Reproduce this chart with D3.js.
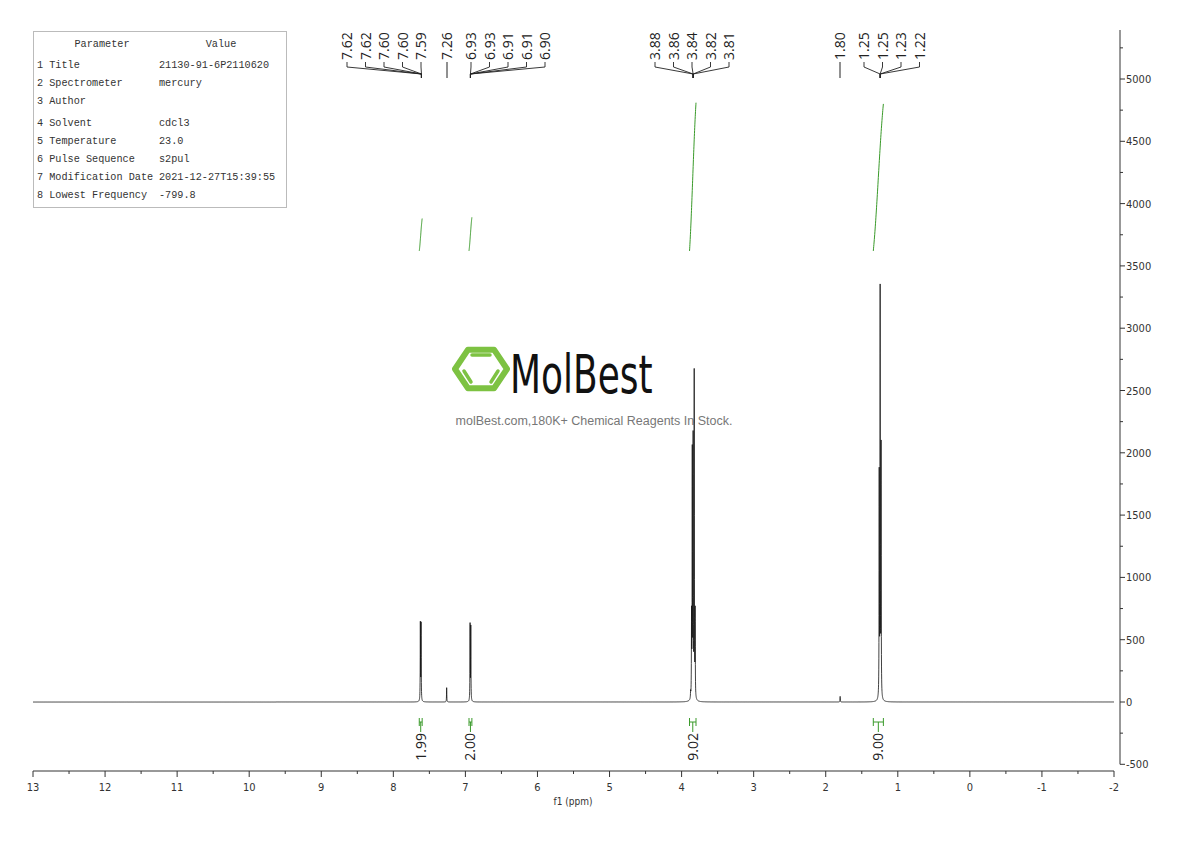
<!DOCTYPE html>
<html><head><meta charset="utf-8">
<script src="https://cdn.jsdelivr.net/npm/d3@7/dist/d3.min.js"></script>
<style>body{margin:0;background:#fff}svg{display:block}</style>
</head><body>
<svg id="c" width="1190" height="841"></svg>
<script>
// ---- data ----
const paramNames = ["1 Title","2 Spectrometer","3 Author","4 Solvent","5 Temperature","6 Pulse Sequence","7 Modification Date","8 Lowest Frequency"];
const paramValues = ["21130-91-6P2110620","mercury","","cdcl3","23.0","s2pul","2021-12-27T15:39:55","-799.8"];
const peakPpm    = [7.625,7.615,7.26,6.935,6.925,3.875,3.862,3.852,3.84,3.825,3.812,1.80,1.258,1.245,1.232];
const peakHeight = [620,615,115,610,590,50,650,1950,2050,2600,680,45,1780,3250,2000];
const labelGroups = [
  {labels:["7.62","7.62","7.60","7.60","7.59"], at:7.61},
  {labels:["7.26"], at:7.26},
  {labels:["6.93","6.93","6.91","6.91","6.90"], at:6.93},
  {labels:["3.88","3.86","3.84","3.82","3.81"], at:3.84},
  {labels:["1.80"], at:1.80},
  {labels:["1.25","1.25","1.23","1.22"], at:1.245}
];
const integralFrom = [7.64,6.95,3.89,1.34];
const integralTo   = [7.60,6.91,3.80,1.20];
const integralLow  = [3620,3620,3620,3620];
const integralHigh = [3880,3890,4810,4800];
const integralVal  = ["1.99","2.00","9.02","9.00"];
const xTicks = d3.range(13,-3,-1);
const yTicks = d3.range(-500,5001,500);

// ---- layout ----
const svg = d3.select("#c");
const x = d3.scaleLinear().domain([13,-2]).range([33,1114]);
const y = d3.scaleLinear().domain([0,5000]).range([702,79]);
const axisFont = "'DejaVu Sans Condensed','Liberation Sans Narrow',sans-serif";

// parameter table
const tb = svg.append("g");
tb.append("rect").attr("x",33.5).attr("y",31.5).attr("width",253).attr("height",176).attr("fill","#fff").attr("stroke","#bbb");
tb.append("text").attr("x",102).attr("y",47).text("Parameter").attr("text-anchor","middle");
tb.append("text").attr("x",221).attr("y",47).text("Value").attr("text-anchor","middle");
const rowY=[68,86,104,126,144,162,180,198];
paramNames.forEach((n,i)=>{
  tb.append("text").attr("x",37).attr("y",rowY[i]).text(n);
  tb.append("text").attr("x",159).attr("y",rowY[i]).text(paramValues[i]);
});
tb.selectAll("text").attr("font-family","'Liberation Mono','DejaVu Sans Mono',monospace").attr("font-size",10.2).attr("fill","#333");

// watermark
const wm = svg.append("g");
const hx=481, hy=369, hr=26;
const hex = d3.range(6).map(k=>[hx+hr*Math.cos(k*Math.PI/3), hy+hr*0.86*Math.sin(k*Math.PI/3)]);
wm.append("path").attr("d","M"+hex.join("L")+"Z").attr("fill","none").attr("stroke","#7dc242").attr("stroke-width",6).attr("stroke-linejoin","round");
wm.append("line").attr("x1",hx-9).attr("x2",hx+9).attr("y1",hy-14).attr("y2",hy-14).attr("stroke","#7dc242").attr("stroke-width",3.5).attr("stroke-linecap","round");
wm.append("line").attr("x1",hx-17).attr("y1",hy+2).attr("x2",hx-10).attr("y2",hy+13).attr("stroke","#7dc242").attr("stroke-width",3.5).attr("stroke-linecap","round");
wm.append("line").attr("x1",hx+17).attr("y1",hy+2).attr("x2",hx+10).attr("y2",hy+13).attr("stroke","#7dc242").attr("stroke-width",3.5).attr("stroke-linecap","round");
wm.append("text").attr("x",0).attr("y",0).attr("transform","translate(510,393) scale(0.74,1)")
  .text("MolBest").attr("font-family","'DejaVu Sans Condensed',sans-serif").attr("font-size",54).attr("fill","#111");
wm.append("text").attr("x",594).attr("y",425).attr("text-anchor","middle").text("molBest.com,180K+ Chemical Reagents In Stock.")
  .attr("font-family","'Liberation Sans',Arial,sans-serif").attr("font-size",12.5).attr("fill","#777");

// spectrum
const grid = d3.range(13,-2.0001,-0.001);
const w = 0.0022;
const spec = grid.map(p=>{
  let s=0; peakPpm.forEach((c,i)=>{const d=(p-c)/w; s+=peakHeight[i]/(1+d*d);}); return [p,s];
});
svg.append("path").datum(spec).attr("d",d3.line().x(d=>x(d[0])).y(d=>y(d[1])))
  .attr("fill","none").attr("stroke","#111").attr("stroke-width",0.8);

// integrals
integralFrom.forEach((f,i)=>{
  const pts = d3.range(0,1.0001,0.02).map(t=>{
    const u = 0.5-0.5*Math.cos(Math.PI*t);
    return [f+(integralTo[i]-f)*t, integralLow[i]+(integralHigh[i]-integralLow[i])*(0.3*u+0.7*t)];
  });
  svg.append("path").datum(pts).attr("d",d3.line().x(d=>x(d[0])).y(d=>y(d[1])))
    .attr("fill","none").attr("stroke","#3a9a2a").attr("stroke-width",1);
  const xm = x((f+integralTo[i])/2), x0=x(f), x1=x(integralTo[i]);
  const g = svg.append("g").attr("stroke","#3a9a2a").attr("stroke-width",1);
  g.append("line").attr("x1",x0).attr("x2",x1).attr("y1",722).attr("y2",722);
  g.append("line").attr("x1",x0).attr("x2",x0).attr("y1",718).attr("y2",726);
  g.append("line").attr("x1",x1).attr("x2",x1).attr("y1",718).attr("y2",726);
  g.append("line").attr("x1",xm).attr("x2",xm).attr("y1",722).attr("y2",732);
  svg.append("text").attr("transform",`translate(${xm+5},733) rotate(-90)`).attr("text-anchor","end")
    .text(integralVal[i]).attr("font-family","'Open Sans',sans-serif").attr("font-size",14).attr("fill","#222");
});

// peak labels
const startX = {0:347,1:447,2:471,3:655,4:840,5:864};
const lab = svg.append("g");
labelGroups.forEach((g,gi)=>{
  const px = x(g.at);
  g.labels.forEach((t,k)=>{
    const lx = startX[gi]+k*18.5;
    lab.append("text").attr("transform",`translate(${lx+5},60) rotate(-90)`).text(t)
      .attr("font-family","'Open Sans',sans-serif").attr("font-size",14).attr("fill","#222");
    if (g.labels.length===1) {
      lab.append("line").attr("x1",lx).attr("x2",lx).attr("y1",62).attr("y2",78).attr("stroke","#222");
    } else {
      lab.append("path").attr("d",`M${lx},62L${lx},67L${px},74L${px},78`).attr("fill","none").attr("stroke","#222").attr("stroke-width",0.9);
    }
  });
});

// x axis
const xa = svg.append("g").attr("transform","translate(0,771)");
xa.append("line").attr("x1",x(13)).attr("x2",x(-2)).attr("stroke","#333");
d3.range(13,-2.01,-0.5).forEach(v=>{
  xa.append("line").attr("x1",x(v)).attr("x2",x(v)).attr("y1",0).attr("y2",Number.isInteger(v)?6:3).attr("stroke","#333");
});
xTicks.forEach(v=>xa.append("text").attr("x",x(v)).attr("y",20).attr("text-anchor","middle").text(v)
  .attr("font-family",axisFont).attr("font-size",11).attr("fill","#333"));
svg.append("text").attr("x",573).attr("y",805).attr("text-anchor","middle").text("f1 (ppm)")
  .attr("font-family",axisFont).attr("font-size",10).attr("fill","#333");

// y axis
const ya = svg.append("g").attr("transform","translate(1120,0)");
ya.append("line").attr("y1",30).attr("y2",y(-500)).attr("stroke","#333");
d3.range(-500,5251,250).forEach(v=>{
  ya.append("line").attr("y1",y(v)).attr("y2",y(v)).attr("x1",0).attr("x2",v%500===0?5:3).attr("stroke","#333");
});
yTicks.forEach(v=>ya.append("text").attr("x",6).attr("y",y(v)+4).text(v)
  .attr("font-family",axisFont).attr("font-size",11).attr("fill","#333"));
</script>
</body></html>
